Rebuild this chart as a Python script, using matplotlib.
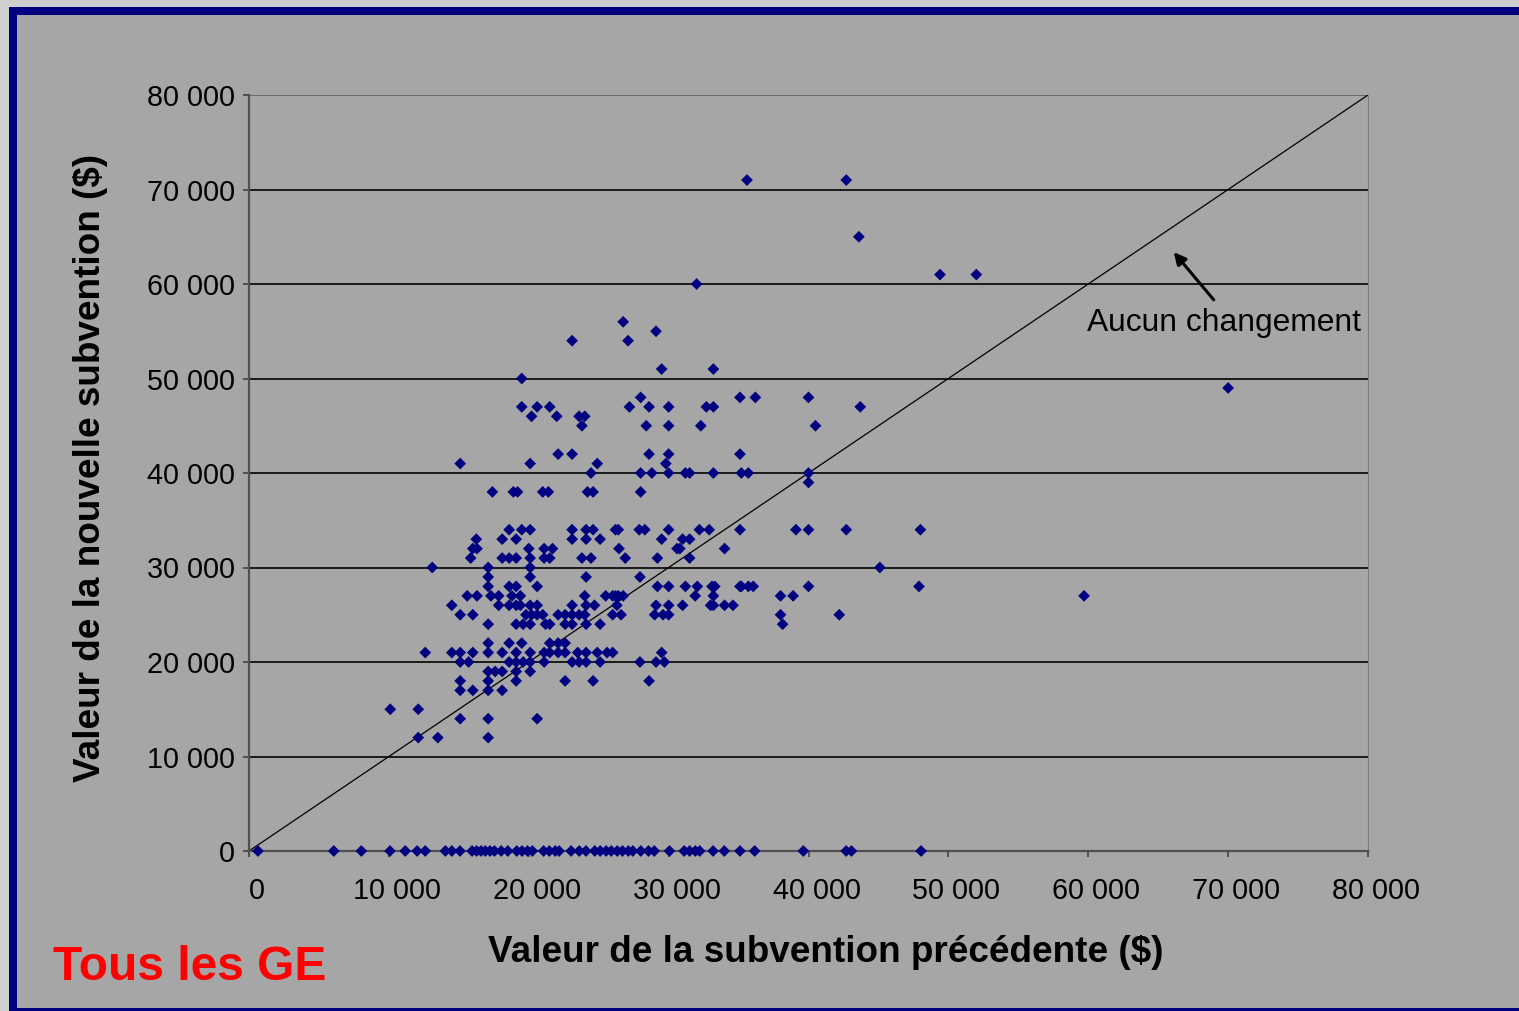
import matplotlib
matplotlib.use("Agg")
import matplotlib.pyplot as plt
import matplotlib.transforms as mtransforms
from matplotlib.patches import Rectangle
import numpy as np

plt.rcParams['font.family'] = ['Liberation Sans', 'DejaVu Sans']

# (ancienne subvention, nouvelle subvention) in thousands of $
pairs = [
    (35.6, 71), (42.7, 71),
    (43.6, 65),
    (49.4, 61), (52.0, 61),
    (32.0, 60),
    (26.75, 56),
    (29.1, 55),
    (23.1, 54), (27.1, 54),
    (29.5, 51), (33.2, 51),
    (19.5, 50),
    (70.0, 49),
    (28.0, 48), (35.1, 48), (36.2, 48), (40.0, 48),
    (19.5, 47), (20.6, 47), (21.5, 47), (27.2, 47), (28.6, 47), (30.0, 47), (32.7, 47), (33.2, 47), (43.7, 47),
    (20.2, 46), (22.0, 46), (23.6, 46), (24.0, 46),
    (23.8, 45), (28.4, 45), (30.0, 45), (32.3, 45), (40.5, 45),
    (22.1, 42), (23.1, 42), (28.6, 42), (30.0, 42), (35.1, 42),
    (15.1, 41), (20.1, 41), (24.9, 41), (29.8, 41),
    (24.45, 40), (28.0, 40), (28.8, 40), (30.0, 40), (31.2, 40), (31.5, 40), (33.2, 40), (35.2, 40), (35.7, 40), (40.0, 40),
    (40.0, 39),
    (17.4, 38), (18.9, 38), (19.2, 38), (21.0, 38), (21.4, 38), (24.2, 38), (24.6, 38), (28.0, 38),
    (18.6, 34), (19.5, 34), (20.1, 34), (23.1, 34), (24.1, 34), (24.6, 34), (26.2, 34), (26.4, 34), (27.9, 34),
    (28.3, 34), (30.0, 34), (32.2, 34), (32.9, 34), (35.1, 34), (39.1, 34), (40.0, 34), (42.7, 34), (48.0, 34),
    (16.25, 33), (18.1, 33), (19.1, 33), (23.1, 33), (24.1, 33), (25.1, 33), (29.5, 33), (31.0, 33), (31.5, 33),
    (16.0, 32), (16.3, 32), (20.0, 32), (21.1, 32), (21.7, 32), (26.45, 32), (30.6, 32), (30.8, 32), (34.0, 32),
    (15.85, 31), (18.1, 31), (18.6, 31), (19.1, 31), (20.1, 31), (21.1, 31), (21.5, 31), (23.8, 31), (24.45, 31),
    (26.9, 31), (29.2, 31), (31.5, 31),
    (13.1, 30), (17.1, 30), (20.1, 30), (45.1, 30),
    (17.1, 29), (20.1, 29), (24.1, 29), (27.95, 29),
    (17.1, 28), (18.6, 28), (19.1, 28), (20.6, 28), (29.2, 28), (30.0, 28), (31.2, 28), (32.05, 28), (33.1, 28),
    (33.3, 28), (35.1, 28), (35.2, 28), (35.7, 28), (36.05, 28), (40.0, 28), (47.9, 28),
    (15.6, 27), (16.3, 27), (17.3, 27), (17.85, 27), (18.8, 27), (19.4, 27), (24.0, 27), (25.5, 27), (26.0, 27),
    (26.2, 27), (26.4, 27), (26.75, 27), (31.9, 27), (33.2, 27), (38.0, 27), (38.9, 27), (59.7, 27),
    (14.5, 26), (17.85, 26), (18.6, 26), (19.1, 26), (19.4, 26), (20.1, 26), (20.6, 26), (23.1, 26), (24.1, 26),
    (24.7, 26), (26.3, 26), (29.1, 26), (30.0, 26), (31.0, 26), (33.0, 26), (33.2, 26), (34.0, 26), (34.6, 26),
    (15.1, 25), (16.0, 25), (19.8, 25), (20.2, 25), (20.6, 25), (21.0, 25), (22.1, 25), (22.6, 25), (23.1, 25),
    (23.6, 25), (24.0, 25), (26.0, 25), (26.6, 25), (29.0, 25), (29.6, 25), (30.0, 25), (38.0, 25), (42.2, 25),
    (17.1, 24), (19.1, 24), (19.6, 24), (20.1, 24), (21.2, 24), (21.5, 24), (22.6, 24), (23.1, 24), (24.1, 24),
    (25.1, 24), (38.15, 24),
    (17.1, 22), (18.6, 22), (19.5, 22), (21.5, 22), (22.1, 22), (22.6, 22),
    (12.6, 21), (14.5, 21), (15.1, 21), (16.0, 21), (17.1, 21), (18.1, 21), (19.1, 21), (20.1, 21), (21.1, 21),
    (21.5, 21), (22.1, 21), (22.6, 21), (23.5, 21), (24.1, 21), (24.9, 21), (25.6, 21), (26.0, 21), (29.5, 21),
    (15.1, 20), (15.7, 20), (18.6, 20), (19.1, 20), (19.6, 20), (20.1, 20), (21.1, 20), (23.1, 20), (23.6, 20),
    (24.1, 20), (25.1, 20), (27.95, 20), (29.1, 20), (29.7, 20),
    (17.1, 19), (17.6, 19), (18.1, 19), (19.1, 19), (20.1, 19),
    (15.1, 18), (17.1, 18), (19.1, 18), (22.6, 18), (24.6, 18), (28.6, 18),
    (15.1, 17), (16.0, 17), (17.1, 17), (18.1, 17),
    (10.1, 15), (12.1, 15),
    (15.1, 14), (17.1, 14), (20.6, 14),
    (12.1, 12), (13.5, 12), (17.1, 12),
]

# ancienne subvention for which the new grant is 0 (thousands of $)
zero_new_prev = [0.64, 6.06, 8.03, 10.08, 11.17, 12.02, 12.6, 14.04, 14.5, 15.08, 15.95, 16.27, 16.59,
                 16.9, 17.23, 17.55, 18.03, 18.5, 19.14, 19.52, 19.91, 20.26, 21.06, 21.47, 21.89, 22.17,
                 23.03, 23.61, 24.09, 24.72, 25.11, 25.53, 25.9, 26.32, 26.7, 27.12, 27.44, 28.01, 28.56,
                 28.97, 30.06, 31.11, 31.5, 31.91, 32.22, 33.18, 33.98, 35.1, 36.15, 39.63, 42.69, 43.07,
                 48.05]

ticks = np.arange(0, 80001, 10000)
tick_labels = ['0', '10 000', '20 000', '30 000', '40 000', '50 000', '60 000', '70 000', '80 000']

prev = np.array([p[0] for p in pairs] + zero_new_prev) * 1000
new = np.array([p[1] for p in pairs] + [0] * len(zero_new_prev)) * 1000

W, H = 1519, 1011
fig = plt.figure(figsize=(W / 100, H / 100), dpi=100)
fig.patch.set_facecolor('#cfcfcf')
# navy frame and gray panel
fig.patches.append(Rectangle((9 / W, 0), 1, 1 - 7 / H, transform=fig.transFigure,
                             facecolor='#000080', edgecolor='none', zorder=-3))
fig.patches.append(Rectangle((17 / W, 3 / H), 1, 1 - 18 / H, transform=fig.transFigure,
                             facecolor='#a6a6a6', edgecolor='none', zorder=-2))

ax = fig.add_axes([249 / W, (H - 851) / H, (1368 - 249) / W, (851 - 95) / H])
ax.set_facecolor('#a6a6a6')

for t in ticks[1:]:
    ax.axhline(t, color='#6a6a6a' if t == 80000 else '#1a1a1a', lw=1.4, zorder=1)
ax.plot([0, 80000], [0, 80000], color='black', lw=0.9, zorder=2)

ax.scatter(prev, new, marker='D', s=36, color='#000080', edgecolors='none', zorder=3, clip_on=False)

ax.set_xlim(0, 80000)
ax.set_ylim(0, 80000)
ax.set_xticks(ticks)
ax.set_yticks(ticks)
ax.set_xticklabels(tick_labels, fontsize=20.7)
ax.set_yticklabels(tick_labels, fontsize=20.7)
ax.tick_params(axis='both', direction='out', length=4.5, width=1.4, color='#505050')
ax.tick_params(axis='y', pad=5.5)
ax.tick_params(axis='x', pad=14)
offset = mtransforms.ScaledTranslation(8 / 100, 0, fig.dpi_scale_trans)
for lab in ax.get_xticklabels():
    lab.set_transform(lab.get_transform() + offset)

ax.spines['top'].set_visible(False)
ax.spines['right'].set_color('#808080')
ax.spines['right'].set_linewidth(0.8)
for side in ['left', 'bottom']:
    ax.spines[side].set_color('#505050')
    ax.spines[side].set_linewidth(1.6)

fig.text(826 / W, 1 - 952 / H, 'Valeur de la subvention précédente ($)', fontsize=26.6,
         fontweight='bold', ha='center', va='center')
fig.text(91 / W, 1 - 468 / H, 'Valeur de la nouvelle subvention ($)', fontsize=26.6,
         fontweight='bold', ha='center', va='center', rotation=90)
fig.text(190 / W, 1 - 968 / H, 'Tous les GE', fontsize=34.5, fontweight='bold',
         color='#ff0000', ha='center', va='center')

ax.annotate('', xy=(65980, 63600), xytext=(69100, 58100),
            arrowprops=dict(arrowstyle='-|>', color='black', lw=2.2, mutation_scale=18))
ax.text(69700, 55870, 'Aucun changement', fontsize=22.9, ha='center', va='center')

fig.savefig('out.png', dpi=100, facecolor=fig.get_facecolor())
